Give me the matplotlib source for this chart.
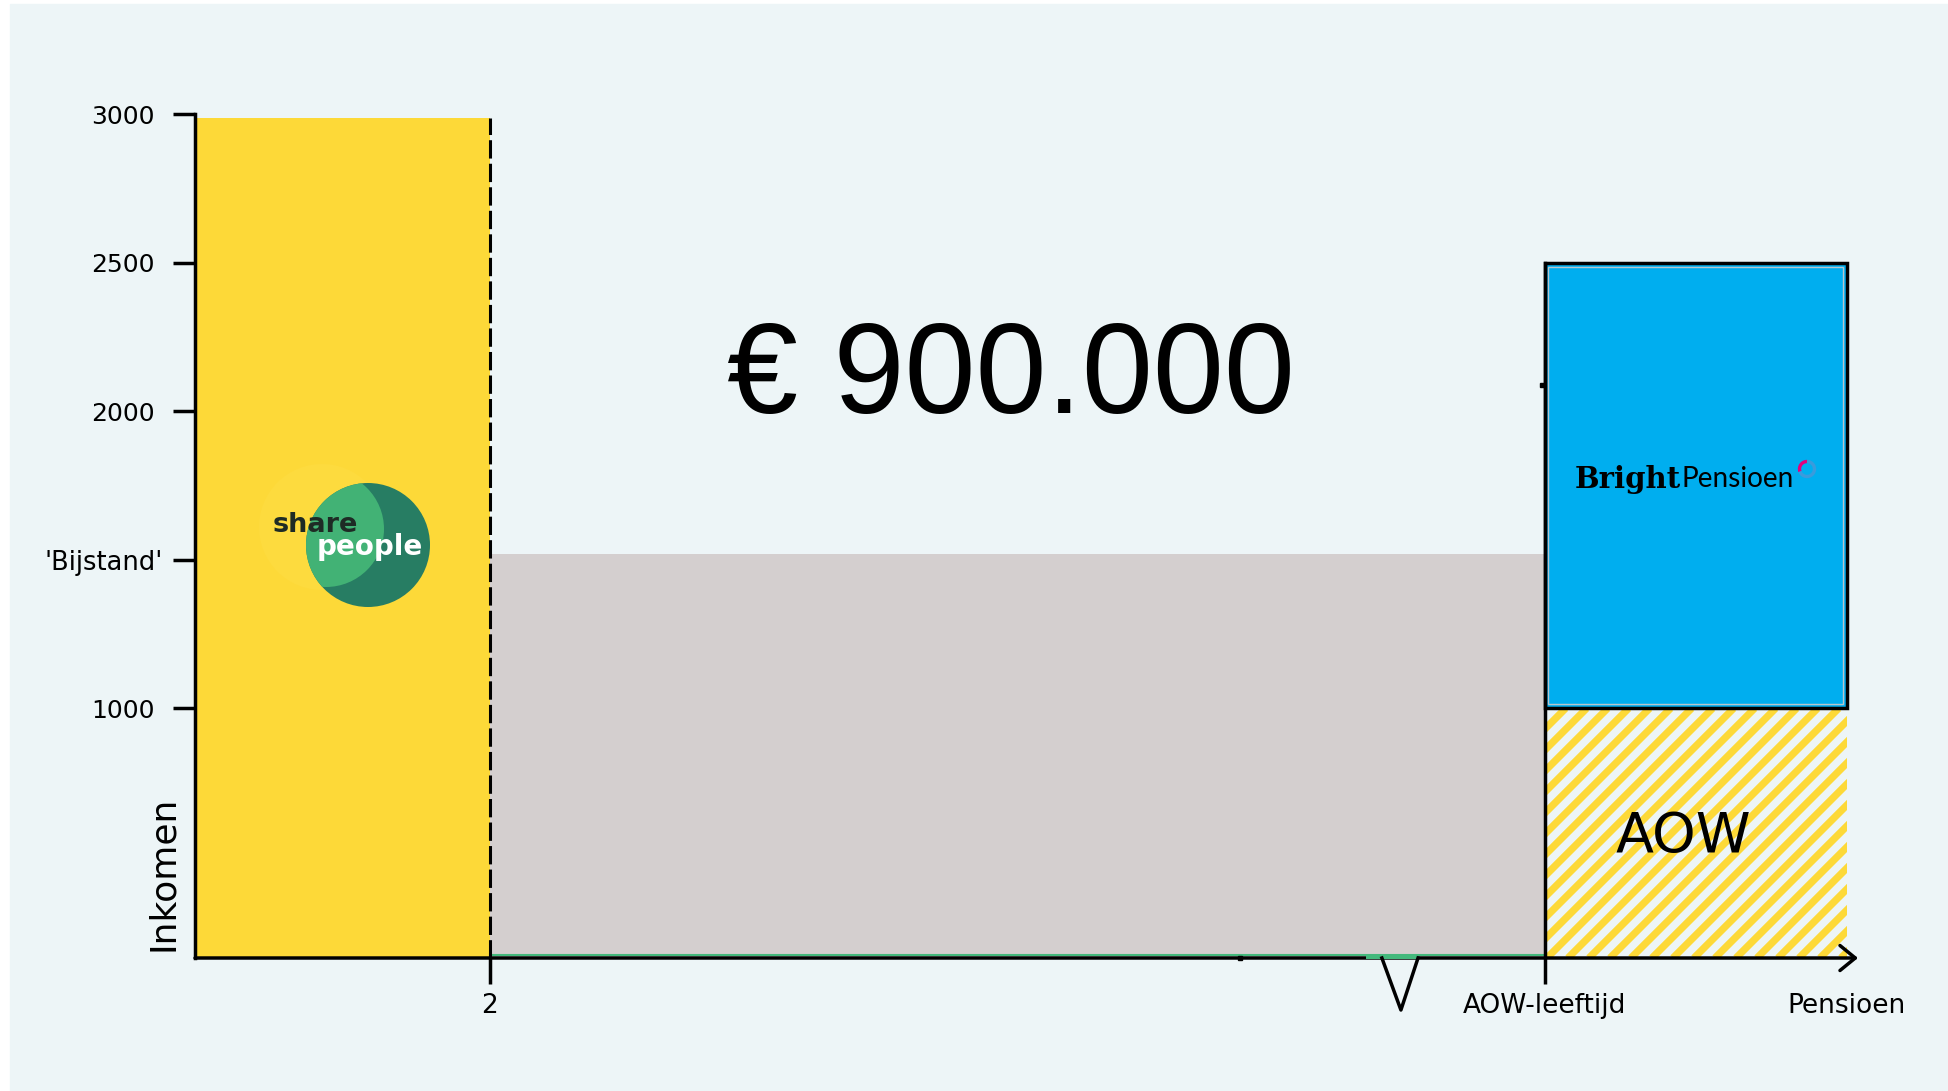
import numpy as np
import matplotlib.pyplot as plt
from matplotlib.patches import Rectangle, Circle, Arc
from matplotlib.collections import LineCollection
from matplotlib.transforms import IdentityTransform, ScaledTranslation

plt.rcParams['font.family'] = ['DejaVu Sans']

# phases on the x axis (arbitrary units): work, gap, pension
phase_edges = [0, 2, 9.15, 11.2]
work_income = 2985
gap_income = 1520
aow_income = 1000
pension_income = 2500
y_bottom = 160
y_top = 3000
x_end = 11.275

ytick_vals = [1000, 1500, 2000, 2500, 3000]
ytick_labels = ['1000', "'Bijstand'", '2000', '2500', '3000']
xtick_vals = [2, 9.15]
xtick_labels = ['2', 'AOW-leeftijd']
end_label_x = [11.2]
end_label = ['Pensioen']

total_text = '€ 900.000'

# stray marks on the x axis
notch_x = [8.047, 8.176, 8.292]
notch_y = [160, -15, 160]
dot_x = [7.085, 9.13]
dot_y = [160, 2088]

bg = '#EDF5F7'
yellow = '#FDD938'
grey = '#D4CFCF'
blue = '#00AEEF'
green = '#43B97C'

fig = plt.figure(figsize=(19.49, 10.91), dpi=100, facecolor='white')
fig.add_artist(Rectangle((10 / 1949, 0), 1, 1 - 4 / 1091, transform=fig.transFigure,
                         color=bg, zorder=-5))

ax = fig.add_axes([195 / 1949, 133 / 1091, 1663 / 1949, 844 / 1091])
ax.set_facecolor('none')
ax.set_xlim(0, x_end)
ax.set_ylim(y_bottom, y_top)

w = [phase_edges[i + 1] - phase_edges[i] for i in range(3)]

# work phase
ax.bar(phase_edges[0], work_income - y_bottom, width=w[0], bottom=y_bottom,
       align='edge', color=yellow, linewidth=0, zorder=1)
# gap until AOW
ax.bar(phase_edges[1], gap_income - y_bottom, width=w[1], bottom=y_bottom,
       align='edge', color=grey, linewidth=0, zorder=1)
ax.plot([phase_edges[1], phase_edges[2]], [y_bottom + 10, y_bottom + 10],
        color=green, lw=1.5, zorder=1.5)
# AOW, striped
ax.bar(phase_edges[2], aow_income - y_bottom, width=w[2], bottom=y_bottom,
       align='edge', color=bg, linewidth=0, zorder=1)
(px0, py0) = ax.transData.transform((phase_edges[2], y_bottom))
(px1, py1) = ax.transData.transform((phase_edges[3], aow_income))
hgt = py1 - py0
starts = np.arange(px0 - hgt, px1 + 21, 21)
segs = [[(c, py0), (c + hgt, py1)] for c in starts]
clip = Rectangle((px0, py0), px1 - px0, hgt, transform=IdentityTransform())
stripes = LineCollection(segs, colors=yellow, linewidths=5.2, transform=IdentityTransform(),
                         zorder=1.2)
ax.add_collection(stripes, autolim=False)
stripes.set_clip_path(clip)

# pension on top of AOW
ax.bar(phase_edges[2], pension_income - aow_income, width=w[2], bottom=aow_income,
       align='edge', color=blue, edgecolor='black', linewidth=2.5, zorder=2)
ax.add_patch(Rectangle((phase_edges[2] + 0.025, aow_income + 14), w[2] - 0.05,
                       pension_income - aow_income - 28, fill=False,
                       edgecolor='#B8C6CC', lw=1, zorder=2.1))

# dashed line at the end of the work phase, AOW line
ax.plot([phase_edges[1]] * 2, [y_bottom, work_income], color='black', lw=2.2,
        dashes=(6, 1.7), zorder=3)
ax.plot([phase_edges[2]] * 2, [y_bottom, pension_income], color='black', lw=2.5, zorder=3)

# axes
for s in ['top', 'right', 'bottom']:
    ax.spines[s].set_visible(False)
ax.spines['left'].set_linewidth(2.5)
ax.annotate('', xy=(x_end, y_bottom), xytext=(0, y_bottom),
            arrowprops=dict(arrowstyle='->,head_length=1.1,head_width=0.9', lw=2.5,
                            color='black', shrinkA=0, shrinkB=0),
            annotation_clip=False, zorder=4)

ax.set_yticks(ytick_vals, ytick_labels)
ax.tick_params(axis='y', length=16, width=2.5, pad=13, labelsize=18)
ax.set_xticks(xtick_vals, xtick_labels)
ax.tick_params(axis='x', length=19, width=2.5, pad=6, labelsize=19)
ax.set_xticks(end_label_x, end_label, minor=True)
ax.tick_params(axis='x', which='minor', length=0, pad=25, labelsize=19)
bij = ax.get_yticklabels()[1]
bij.set_fontsize(18.5)
bij.set_transform(bij.get_transform() + ScaledTranslation(0.08, 0, fig.dpi_scale_trans))

ax.set_ylabel('Inkomen', fontsize=26)
ax.yaxis.set_label_coords(-0.009, 0.1)

# notch and stray dots
ax.fill_between([notch_x[0] - 0.11, notch_x[2]], y_bottom - 13, y_bottom + 8,
                color=green, linewidth=0, zorder=5)
ax.plot(notch_x, notch_y, color='black', lw=2.5, clip_on=False, zorder=6)
ax.plot(dot_x, dot_y, 's', ms=3.5, color='black', zorder=6, clip_on=False)

ax.text(5.53, 1994, total_text, fontsize=92, family='Liberation Sans',
        ha='center', va='baseline')
ax.text(10.09, 517, 'AOW', fontsize=40, ha='center', va='baseline', zorder=4)

# logos, in pixel coordinates
ov = fig.add_axes([0, 0, 1, 1], zorder=3)
ov.set_xlim(0, 1949)
ov.set_ylim(1091, 0)
ov.axis('off')
ov.patch.set_alpha(0)

ov.add_patch(Circle((322, 527), 63, color='#FDDB3E', lw=0))
dark = Circle((368, 545), 62, color='#277D63', lw=0)
ov.add_patch(dark)
light = Circle((326, 529), 58, color='#42B275', lw=0)
ov.add_patch(light)
light.set_clip_path(dark)
ov.text(273, 532, 'share', fontsize=19.5, fontweight='bold', color='#1E2B25',
        ha='left', va='baseline')
ov.text(317, 555, 'people', fontsize=20, fontweight='bold', color='white',
        ha='left', va='baseline')

ov.text(1575, 488, 'Bright', family='DejaVu Serif', fontweight='heavy', fontsize=21,
        ha='left', va='baseline')
ov.text(1682, 487, 'Pensioen', family='Lato', fontsize=20.2,
        ha='left', va='baseline')
ov.add_patch(Arc((1807, 469), 15, 15, theta1=160, theta2=270, color='#E5007D', lw=2.4))
ov.add_patch(Arc((1807, 469), 15, 15, theta1=-90, theta2=160, color='#3A9BDC', lw=2.4))

fig.savefig('out.png', dpi=100)
